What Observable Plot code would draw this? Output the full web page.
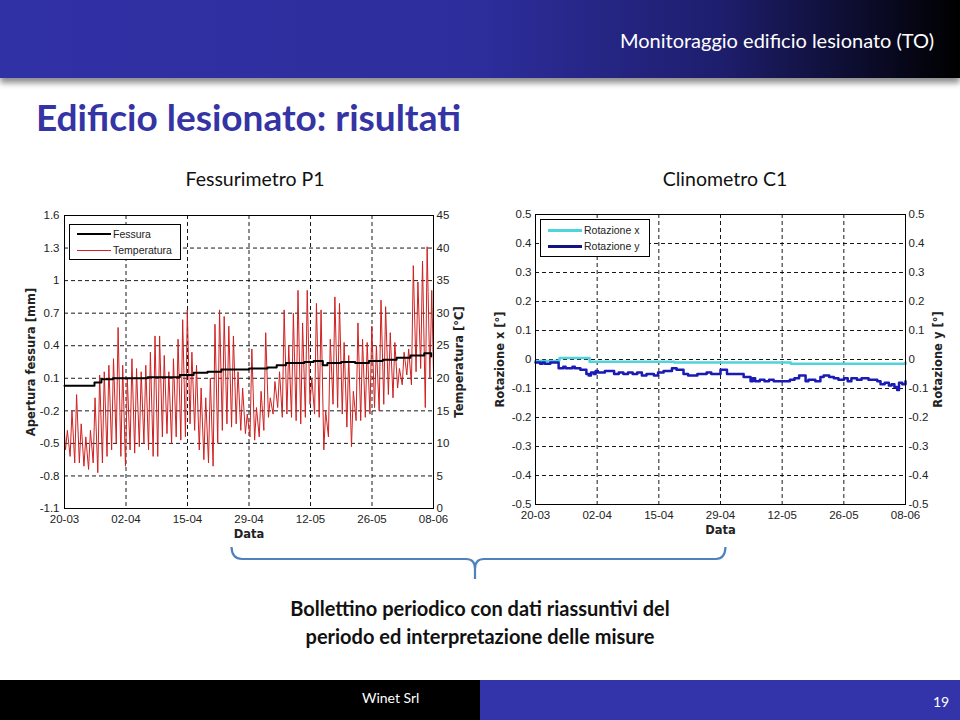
<!DOCTYPE html>
<html>
<head>
<meta charset="utf-8">
<script src="https://cdn.jsdelivr.net/npm/d3@7"></script>
<script src="https://cdn.jsdelivr.net/npm/@observablehq/plot@0.6"></script>
<style>
  html, body { margin: 0; padding: 0; background: #fff; }
  body { width: 960px; height: 720px; position: relative; overflow: hidden; font-family: Lato, "Open Sans", sans-serif; }
  .abs { position: absolute; }
  #header { left: 0; top: 0; width: 960px; height: 78px;
    background: linear-gradient(to right, #3131a6 0%, #2d2d9c 50%, #1e1e6e 75%, #000 100%);
    box-shadow: 0 5px 6px rgba(0,0,0,0.45); }
  #htitle { right: 26px; top: 28px; color: #fff; font-size: 20px; white-space: nowrap; }
  #title { left: 36px; top: 94px; color: #3434a4; font-size: 37px; font-weight: 700; white-space: nowrap; }
  .sub { top: 167px; font-size: 19.5px; color: #111; white-space: nowrap; transform: translateX(-50%); }
  .legend { background: #fff; border: 1px solid #000; font-family: "Liberation Sans", Arial, sans-serif; font-size: 10.5px; color: #222; }
  .legend .row { position: absolute; left: 0; height: 14px; display: flex; align-items: center; white-space: nowrap; }
  .legend .sw { display: inline-block; width: 34px; margin-left: 7px; margin-right: 2px; }
  .bottomtext { left: 0; width: 960px; text-align: center; font-size: 20px; font-weight: 700; color: #111; white-space: nowrap; }
  #footL { left: 0; top: 680px; width: 480px; height: 40px; background: #000; }
  #footR { left: 480px; top: 680px; width: 480px; height: 40px; background: #3333aa; }
  .foottext { color: #fff; font-size: 14px; }
</style>
</head>
<body>
<div id="header" class="abs"></div>
<div id="htitle" class="abs">Monitoraggio edificio lesionato (TO)</div>
<div id="title" class="abs">Edificio lesionato: risultati</div>
<div class="abs sub" style="left:255px">Fessurimetro P1</div>
<div class="abs sub" style="left:725px">Clinometro C1</div>
<div id="chartL" class="abs" style="left:0;top:195px"></div>
<div id="chartR" class="abs" style="left:480px;top:195px"></div>

<div class="abs legend" style="left:69px;top:224px;width:110px;height:34px">
  <div class="row" style="top:2px"><span class="sw" style="border-top:2px solid #000"></span>Fessura</div>
  <div class="row" style="top:18px"><span class="sw" style="border-top:1px solid #d42020"></span>Temperatura</div>
</div>
<div class="abs legend" style="left:540px;top:219px;width:108px;height:36px">
  <div class="row" style="top:3px"><span class="sw" style="border-top:3px solid #50d4dc"></span>Rotazione x</div>
  <div class="row" style="top:19px"><span class="sw" style="border-top:3px solid #141480"></span>Rotazione y</div>
</div>

<svg class="abs" style="left:0;top:540px" width="960" height="50">
  <path d="M231.5,7 Q232,19 242,19 L466,19 Q475,19 475,29 L475,39 M475,29 Q475,19 484,19 L716,19 Q725,19 725.5,7" fill="none" stroke="#4f81bd" stroke-width="2.2"/>
</svg>
<div class="abs bottomtext" style="top:596px">Bollettino periodico con dati riassuntivi del</div>
<div class="abs bottomtext" style="top:624px">periodo ed interpretazione delle misure</div>

<div id="footL" class="abs"></div>
<div id="footR" class="abs"></div>
<div class="abs foottext" style="left:362px;top:689px">Winet Srl</div>
<div class="abs foottext" style="left:933px;top:693px">19</div>

<script>
// ---------- data ----------
const dateLabels = ["20-03", "02-04", "15-04", "29-04", "12-05", "26-05", "08-06"];
const totalDays = 80;

const fessTicks = [-1.1, -0.8, -0.5, -0.2, 0.1, 0.4, 0.7, 1, 1.3, 1.6];
const tempTicks = [0, 5, 10, 15, 20, 25, 30, 35, 40, 45];
const rotTicks = [-0.5, -0.4, -0.3, -0.2, -0.1, 0, 0.1, 0.2, 0.3, 0.4, 0.5];

// daily temperature maxima / minima (°C), day 0 = 20-03
const tempMax = [12, 15, 17.5, 13, 11, 12, 17, 20.5, 21, 22, 23, 27.8, 22, 20,
  23, 21.5, 21, 22, 24, 26.5, 26.5, 23.5, 21, 23, 26, 29, 30.5, 24,
  22, 18.5, 17, 20, 28.3, 30.5, 29.5, 28, 26.5, 21, 18.5, 14.5, 24.5,
  15.5, 18, 27, 17, 19.5, 21, 30.5, 25, 30, 33.5, 28.5, 33.5, 20,
  31.5, 30.5, 15, 26, 32.5, 31.5, 25.5, 23.5, 18, 28.5, 26, 25.5, 28,
  25, 32, 31, 27, 25.5, 21.5, 24, 24.5, 37.3, 34.8, 38, 40.2, 33.5];
const tempMin = [9, 8, 7, 7, 6.5, 6, 7, 5.5, 7, 8, 9, 10, 8, 6.5,
  9, 8.5, 9.5, 10, 9, 8, 8, 11, 11.5, 10, 11, 10.5, 11, 13,
  12, 9, 7.5, 7, 6.5, 10, 12, 13, 12.5, 13, 12, 11.5, 11,
  10.5, 11, 12, 14, 14.5, 15.5, 14, 14.5, 14, 13.5, 13, 14, 16,
  14.5, 14, 9, 11, 16, 15.5, 14.5, 12.5, 9.5, 13.5, 13.5, 14, 14.5,
  15.5, 15, 16, 17.5, 17, 18.5, 19, 20.5, 19, 21, 21.5, 15.5, 20];
const tempStart = 11.5;
const tempEnd = 21;

// crack opening (mm)
const fessDay = [0, 5.5, 6.5, 8, 10.5, 14, 18, 22, 25, 28, 31, 34, 37, 40, 44, 46, 48, 52, 54, 56, 57, 60, 63, 66, 69, 72, 75, 78, 79.5];
const fessVal = [0.03, 0.03, 0.06, 0.09, 0.10, 0.10, 0.11, 0.11, 0.13, 0.15, 0.16, 0.18, 0.18, 0.19, 0.20, 0.22, 0.24, 0.25, 0.26, 0.22, 0.24, 0.25, 0.24, 0.26, 0.27, 0.29, 0.31, 0.33, 0.30];

// rotations (°)
const rxDay = [0, 5, 5.2, 11.5, 11.7, 30, 55, 55.2, 79, 80];
const rxVal = [-0.005, -0.003, 0.005, 0.005, -0.008, -0.01, -0.01, -0.015, -0.015, -0.01];
const ryDay = [0, 1, 1.5, 2, 3.2, 5, 6, 6.5, 8, 8.5, 9.7, 11, 11.5, 12, 12.6, 13, 13.5, 15, 17, 18, 19, 20, 21, 22, 23, 24, 25.6, 26.5, 27.7, 29.5, 30.5, 32, 33, 35, 37, 38, 40, 41.4, 45, 46.5, 47, 47.5, 48.5, 49.5, 50.5, 51.5, 53, 55, 56, 57, 58.4, 59, 60.5, 61.6, 62.3, 63.5, 64.5, 65.5, 66.7, 67.5, 68.3, 69.5, 70.5, 72, 73.9, 74.6, 75.5, 76.4, 77, 77.6, 78.2, 78.6, 79.3, 80];
const ryVal = [-0.01, -0.015, -0.01, -0.015, -0.01, -0.03, -0.025, -0.03, -0.025, -0.03, -0.035, -0.05, -0.055, -0.045, -0.05, -0.04, -0.045, -0.04, -0.05, -0.045, -0.05, -0.045, -0.05, -0.045, -0.055, -0.05, -0.055, -0.045, -0.04, -0.03, -0.035, -0.05, -0.055, -0.05, -0.045, -0.05, -0.035, -0.05, -0.06, -0.075, -0.065, -0.075, -0.07, -0.075, -0.07, -0.075, -0.075, -0.07, -0.065, -0.055, -0.075, -0.07, -0.075, -0.06, -0.055, -0.06, -0.065, -0.07, -0.065, -0.075, -0.065, -0.07, -0.065, -0.07, -0.075, -0.085, -0.08, -0.09, -0.085, -0.095, -0.105, -0.08, -0.085, -0.075];

// ---------- tables ----------
const xTicks = dateLabels.map((_, i) => i * totalDays / (dateLabels.length - 1));
const xFmt = d => dateLabels[Math.round(d * (dateLabels.length - 1) / totalDays)];
const tempToY = T => -1.1 + T * 0.06;   // right axis 0..45 °C  <->  left axis -1.1..1.6 mm

const tempRows = [{t: 0, v: tempStart}];
tempMax.forEach((mx, d) => { tempRows.push({t: d + 0.22, v: tempMin[d]}); tempRows.push({t: d + 0.62, v: mx}); });
tempRows.push({t: totalDays, v: tempEnd});
const fessRows = fessDay.map((t, i) => ({t, v: fessVal[i]}));
const rxRows = rxDay.map((t, i) => ({t, v: rxVal[i]}));
const ryRows = ryDay.map((t, i) => ({t, v: ryVal[i]}));

const fmt1 = d => String(+(+d).toFixed(1));
const gridStyle = {stroke: "#000", strokeOpacity: 0.9, strokeDasharray: "4,3", strokeWidth: 1};
const baseStyle = {fontFamily: "'Liberation Sans', Arial, sans-serif", fontSize: "11.5px", color: "#222", background: "transparent", overflow: "visible"};
const labelFont = {fontFamily: "'DejaVu Sans', 'Liberation Sans', sans-serif", fontWeight: "bold", fontSize: 11.5, fill: "#222", textAnchor: "middle", lineAnchor: "middle"};

const left = Plot.plot({
  width: 480, height: 350,
  marginLeft: 64, marginRight: 47, marginTop: 20, marginBottom: 37,
  style: baseStyle,
  x: {domain: [0, totalDays]},
  y: {domain: [-1.1, 1.6]},
  marks: [
    Plot.gridX(xTicks.slice(1, -1), gridStyle),
    Plot.gridY(fessTicks.slice(1, -1), gridStyle),
    Plot.line(tempRows, {x: "t", y: d => tempToY(d.v), stroke: "#d02020", strokeWidth: 1}),
    Plot.line(fessRows, {x: "t", y: "v", stroke: "#000", strokeWidth: 2, curve: "step-after"}),
    Plot.frame({stroke: "#000"}),
    Plot.axisX({ticks: xTicks, tickFormat: xFmt, tickSize: 0, tickPadding: 6, label: null}),
    Plot.axisY({ticks: fessTicks, tickFormat: fmt1, tickSize: 0, tickPadding: 5, label: null}),
    Plot.axisY({anchor: "right", ticks: tempTicks.map(tempToY), tickFormat: d => String(Math.round((d + 1.1) / 0.06)), tickSize: 0, tickPadding: 3, label: null}),
    Plot.text(["Apertura fessura [mm]"], {frameAnchor: "left", dx: -33, rotate: -90, ...labelFont}),
    Plot.text(["Temperatura [°C]"], {frameAnchor: "right", dx: 26, rotate: -90, ...labelFont}),
    Plot.text(["Data"], {frameAnchor: "bottom", dy: 26, ...labelFont})
  ]
});
document.getElementById("chartL").appendChild(left);

const right = Plot.plot({
  width: 480, height: 350,
  marginLeft: 55, marginRight: 55, marginTop: 19, marginBottom: 41,
  style: baseStyle,
  x: {domain: [0, totalDays]},
  y: {domain: [-0.5, 0.5]},
  marks: [
    Plot.gridX(xTicks.slice(1, -1), gridStyle),
    Plot.gridY(rotTicks.slice(1, -1), gridStyle),
    Plot.line(rxRows, {x: "t", y: "v", stroke: "#50d4dc", strokeWidth: 2.5, curve: "step-after"}),
    Plot.line(ryRows, {x: "t", y: "v", stroke: "#1a1ab4", strokeWidth: 2.5, curve: "step-after"}),
    Plot.frame({stroke: "#000"}),
    Plot.axisX({ticks: xTicks, tickFormat: xFmt, tickSize: 0, tickPadding: 6, label: null}),
    Plot.axisY({ticks: rotTicks, tickFormat: fmt1, tickSize: 0, tickPadding: 4, label: null}),
    Plot.axisY({anchor: "right", ticks: rotTicks, tickFormat: fmt1, tickSize: 0, tickPadding: 3, label: null}),
    Plot.text(["Rotazione x [°]"], {frameAnchor: "left", dx: -35, rotate: -90, ...labelFont}),
    Plot.text(["Rotazione y [°]"], {frameAnchor: "right", dx: 33, rotate: -90, ...labelFont}),
    Plot.text(["Data"], {frameAnchor: "bottom", dy: 26, ...labelFont})
  ]
});
document.getElementById("chartR").appendChild(right);
</script>
</body>
</html>
